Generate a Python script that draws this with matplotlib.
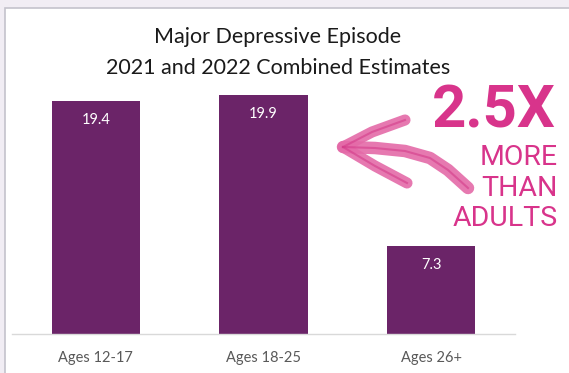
import matplotlib.pyplot as plt
from matplotlib.patches import Rectangle
from matplotlib.lines import Line2D

categories = ['Ages 12-17', 'Ages 18-25', 'Ages 26+']
values = [19.4, 19.9, 7.3]
title_lines = ['Major Depressive Episode', '2021 and 2022 Combined Estimates']

W, H = 569, 373
fig = plt.figure(figsize=(W / 100, H / 100), dpi=100)
fig.patch.set_facecolor('#f1edf4')


def px(x, y):
    # pixel (from top-left) to figure fraction
    return x / W, 1 - y / H


# white panel with grey border
x0, y0 = px(5, 8)
fig.patches.append(Rectangle((x0, -0.01), 1 - x0 + 0.01, y0 + 0.01,
                             transform=fig.transFigure, figure=fig,
                             facecolor='white', edgecolor='#c4c2cc',
                             linewidth=1.2, zorder=-5))

# axes: x 12..515 px, y 91..334 px
l, t = px(12, 91)
r, b = px(515, 334)
ax = fig.add_axes([l, b, r - l, t - b])
ax.set_facecolor('none')
ax.bar(range(len(values)), values, width=0.525, color='#6b2468')
ax.set_xlim(-0.5, 2.5)
ax.set_ylim(0, 20.2)
for s in ['top', 'right', 'left']:
    ax.spines[s].set_visible(False)
ax.spines['bottom'].set_color('#d9d9d9')
ax.spines['bottom'].set_linewidth(1.0)
ax.set_yticks([])
ax.set_xticks(range(len(categories)))
ax.set_xticklabels(categories, fontsize=10.5, color='#595959', family='Lato')
ax.tick_params(axis='x', length=0, pad=12)

for i, v in enumerate(values):
    ax.text(i, v - 1.0, f'{v}', ha='center', va='top', color='white',
            fontsize=10.5, family='Lato')

for txt, yy in zip(title_lines, [37, 68]):
    fig.text(*px(278, yy), txt, ha='center', va='center', fontsize=15.5,
             family='Lato', color='#1a1a1a')

# call-out text
pink = '#d8348b'
fig.text(*px(556, 111), '2.5X', ha='right', va='center', fontsize=43,
         fontweight='bold', color=pink, family='Roboto')
for txt, yy in [('MORE', 157), ('THAN', 188), ('ADULTS', 219)]:
    fig.text(*px(558, yy), txt, ha='right', va='center', fontsize=20.5,
             color=pink, family='Roboto')

# brush arrow
arrow_col = '#e46aa8'
shaft = [(468, 188), (448, 170), (430, 158), (405, 151), (375, 148), (343, 147)]
upper = [(343, 147), (372, 132), (405, 120)]
lower = [(343, 147), (375, 166), (407, 183)]
for path, lw in [(shaft, 9), (upper, 8), (lower, 8)]:
    xs, ys = zip(*[px(x, y) for x, y in path])
    fig.add_artist(Line2D(xs, ys, transform=fig.transFigure, color=arrow_col,
                          linewidth=lw, solid_capstyle='round', alpha=0.9))
for path in [shaft, upper, lower]:
    xs, ys = zip(*[px(x, y) for x, y in path])
    fig.add_artist(Line2D(xs, ys, transform=fig.transFigure, color='#d43c8a',
                          linewidth=1.5, alpha=0.6))

fig.savefig('out.png', dpi=100, facecolor=fig.get_facecolor())
